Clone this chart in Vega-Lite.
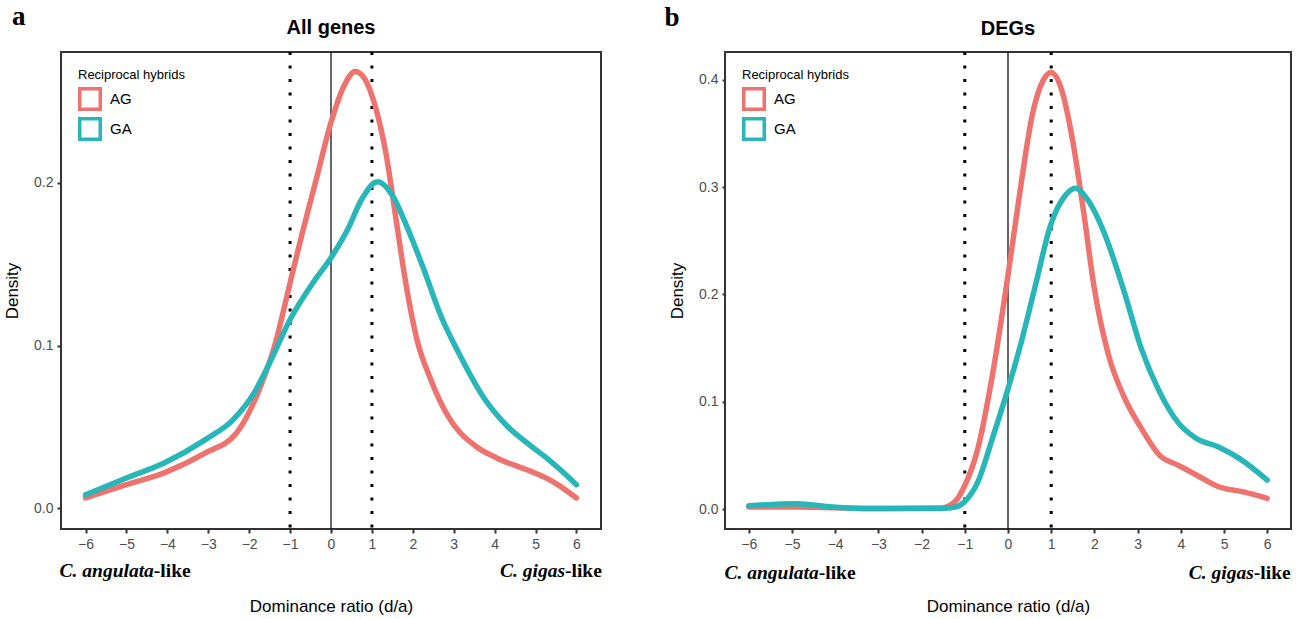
{
  "$schema": "https://vega.github.io/schema/vega-lite/v6.json",
  "background": "white",
  "padding": {"left": 2, "top": 2, "right": 10, "bottom": 2},
  "datasets": {
    "curves": [
      {"panel": "a", "hybrid": "AG", "x": -6.0, "y": 0.0062},
      {"panel": "a", "hybrid": "AG", "x": -5.0, "y": 0.0144},
      {"panel": "a", "hybrid": "AG", "x": -4.08, "y": 0.0216},
      {"panel": "a", "hybrid": "AG", "x": -3.07, "y": 0.0339},
      {"panel": "a", "hybrid": "AG", "x": -2.31, "y": 0.0462},
      {"panel": "a", "hybrid": "AG", "x": -2.01, "y": 0.0585},
      {"panel": "a", "hybrid": "AG", "x": -1.72, "y": 0.075},
      {"panel": "a", "hybrid": "AG", "x": -1.38, "y": 0.0996},
      {"panel": "a", "hybrid": "AG", "x": -1.0, "y": 0.1386},
      {"panel": "a", "hybrid": "AG", "x": -0.7, "y": 0.1694},
      {"panel": "a", "hybrid": "AG", "x": -0.36, "y": 0.2023},
      {"panel": "a", "hybrid": "AG", "x": 0.0, "y": 0.2372},
      {"panel": "a", "hybrid": "AG", "x": 0.32, "y": 0.2598},
      {"panel": "a", "hybrid": "AG", "x": 0.59, "y": 0.2686},
      {"panel": "a", "hybrid": "AG", "x": 0.83, "y": 0.2639},
      {"panel": "a", "hybrid": "AG", "x": 1.08, "y": 0.2474},
      {"panel": "a", "hybrid": "AG", "x": 1.34, "y": 0.2187},
      {"panel": "a", "hybrid": "AG", "x": 1.59, "y": 0.1776},
      {"panel": "a", "hybrid": "AG", "x": 1.84, "y": 0.1366},
      {"panel": "a", "hybrid": "AG", "x": 2.1, "y": 0.1037},
      {"panel": "a", "hybrid": "AG", "x": 2.44, "y": 0.079},
      {"panel": "a", "hybrid": "AG", "x": 2.86, "y": 0.0565},
      {"panel": "a", "hybrid": "AG", "x": 3.54, "y": 0.038},
      {"panel": "a", "hybrid": "AG", "x": 4.05, "y": 0.0308},
      {"panel": "a", "hybrid": "AG", "x": 4.98, "y": 0.0216},
      {"panel": "a", "hybrid": "AG", "x": 5.41, "y": 0.0164},
      {"panel": "a", "hybrid": "AG", "x": 6.0, "y": 0.0062},
      {"panel": "a", "hybrid": "GA", "x": -6.0, "y": 0.0082},
      {"panel": "a", "hybrid": "GA", "x": -5.0, "y": 0.0185},
      {"panel": "a", "hybrid": "GA", "x": -4.08, "y": 0.0277},
      {"panel": "a", "hybrid": "GA", "x": -3.07, "y": 0.0421},
      {"panel": "a", "hybrid": "GA", "x": -2.39, "y": 0.0544},
      {"panel": "a", "hybrid": "GA", "x": -1.88, "y": 0.0708},
      {"panel": "a", "hybrid": "GA", "x": -1.46, "y": 0.0914},
      {"panel": "a", "hybrid": "GA", "x": -1.0, "y": 0.116},
      {"panel": "a", "hybrid": "GA", "x": -0.44, "y": 0.1386},
      {"panel": "a", "hybrid": "GA", "x": 0.0, "y": 0.154},
      {"panel": "a", "hybrid": "GA", "x": 0.41, "y": 0.1715},
      {"panel": "a", "hybrid": "GA", "x": 0.75, "y": 0.19},
      {"panel": "a", "hybrid": "GA", "x": 1.14, "y": 0.2008},
      {"panel": "a", "hybrid": "GA", "x": 1.51, "y": 0.192},
      {"panel": "a", "hybrid": "GA", "x": 1.85, "y": 0.1735},
      {"panel": "a", "hybrid": "GA", "x": 2.27, "y": 0.1468},
      {"panel": "a", "hybrid": "GA", "x": 2.69, "y": 0.118},
      {"panel": "a", "hybrid": "GA", "x": 3.12, "y": 0.0955},
      {"panel": "a", "hybrid": "GA", "x": 3.71, "y": 0.0688},
      {"panel": "a", "hybrid": "GA", "x": 4.31, "y": 0.0503},
      {"panel": "a", "hybrid": "GA", "x": 4.9, "y": 0.038},
      {"panel": "a", "hybrid": "GA", "x": 5.32, "y": 0.0298},
      {"panel": "a", "hybrid": "GA", "x": 6.0, "y": 0.0144},
      {"panel": "b", "hybrid": "AG", "x": -6.0, "y": 0.002},
      {"panel": "b", "hybrid": "AG", "x": -4.9, "y": 0.002},
      {"panel": "b", "hybrid": "AG", "x": -3.2, "y": 0.0005},
      {"panel": "b", "hybrid": "AG", "x": -1.54, "y": 0.001},
      {"panel": "b", "hybrid": "AG", "x": -1.2, "y": 0.008},
      {"panel": "b", "hybrid": "AG", "x": -1.0, "y": 0.022},
      {"panel": "b", "hybrid": "AG", "x": -0.7, "y": 0.056},
      {"panel": "b", "hybrid": "AG", "x": -0.36, "y": 0.125},
      {"panel": "b", "hybrid": "AG", "x": 0.0, "y": 0.218},
      {"panel": "b", "hybrid": "AG", "x": 0.31, "y": 0.305},
      {"panel": "b", "hybrid": "AG", "x": 0.56, "y": 0.367},
      {"panel": "b", "hybrid": "AG", "x": 0.82, "y": 0.4},
      {"panel": "b", "hybrid": "AG", "x": 1.0, "y": 0.407},
      {"panel": "b", "hybrid": "AG", "x": 1.24, "y": 0.391},
      {"panel": "b", "hybrid": "AG", "x": 1.49, "y": 0.345},
      {"panel": "b", "hybrid": "AG", "x": 1.74, "y": 0.28},
      {"panel": "b", "hybrid": "AG", "x": 2.0, "y": 0.205},
      {"panel": "b", "hybrid": "AG", "x": 2.33, "y": 0.143},
      {"panel": "b", "hybrid": "AG", "x": 2.67, "y": 0.106},
      {"panel": "b", "hybrid": "AG", "x": 3.09, "y": 0.075},
      {"panel": "b", "hybrid": "AG", "x": 3.51, "y": 0.05},
      {"panel": "b", "hybrid": "AG", "x": 3.93, "y": 0.041},
      {"panel": "b", "hybrid": "AG", "x": 4.35, "y": 0.032},
      {"panel": "b", "hybrid": "AG", "x": 4.86, "y": 0.021},
      {"panel": "b", "hybrid": "AG", "x": 5.45, "y": 0.016},
      {"panel": "b", "hybrid": "AG", "x": 6.0, "y": 0.01},
      {"panel": "b", "hybrid": "GA", "x": -6.0, "y": 0.003},
      {"panel": "b", "hybrid": "GA", "x": -4.9, "y": 0.005},
      {"panel": "b", "hybrid": "GA", "x": -4.07, "y": 0.002},
      {"panel": "b", "hybrid": "GA", "x": -3.2, "y": 0.0005},
      {"panel": "b", "hybrid": "GA", "x": -1.54, "y": 0.0005},
      {"panel": "b", "hybrid": "GA", "x": -1.2, "y": 0.002},
      {"panel": "b", "hybrid": "GA", "x": -1.0, "y": 0.007},
      {"panel": "b", "hybrid": "GA", "x": -0.7, "y": 0.025},
      {"panel": "b", "hybrid": "GA", "x": -0.36, "y": 0.066},
      {"panel": "b", "hybrid": "GA", "x": 0.0, "y": 0.112},
      {"panel": "b", "hybrid": "GA", "x": 0.31, "y": 0.156},
      {"panel": "b", "hybrid": "GA", "x": 0.65, "y": 0.211},
      {"panel": "b", "hybrid": "GA", "x": 0.98, "y": 0.264},
      {"panel": "b", "hybrid": "GA", "x": 1.32, "y": 0.292},
      {"panel": "b", "hybrid": "GA", "x": 1.56, "y": 0.299},
      {"panel": "b", "hybrid": "GA", "x": 1.83, "y": 0.289},
      {"panel": "b", "hybrid": "GA", "x": 2.25, "y": 0.255},
      {"panel": "b", "hybrid": "GA", "x": 2.67, "y": 0.205},
      {"panel": "b", "hybrid": "GA", "x": 3.09, "y": 0.149},
      {"panel": "b", "hybrid": "GA", "x": 3.51, "y": 0.109},
      {"panel": "b", "hybrid": "GA", "x": 3.93, "y": 0.081},
      {"panel": "b", "hybrid": "GA", "x": 4.35, "y": 0.066},
      {"panel": "b", "hybrid": "GA", "x": 4.86, "y": 0.058},
      {"panel": "b", "hybrid": "GA", "x": 5.36, "y": 0.047},
      {"panel": "b", "hybrid": "GA", "x": 6.0, "y": 0.027}
    ],
    "dotted": [{"x": -1}, {"x": 1}],
    "zero": [{"x": 0}],
    "letters": [
      {"panel": "a", "label": "a", "x": -7.8, "y": 0.302},
      {"panel": "b", "label": "b", "x": -7.95, "y": 0.458}
    ],
    "species": [
      {"panel": "a", "part": "name", "label": "C. angulata", "x": -4.33, "y": -0.0388},
      {"panel": "a", "part": "suffix", "label": "-like", "x": -4.33, "y": -0.0388},
      {"panel": "a", "part": "name", "label": "C. gigas", "x": 5.72, "y": -0.0388},
      {"panel": "a", "part": "suffix", "label": "-like", "x": 5.72, "y": -0.0388},
      {"panel": "b", "part": "name", "label": "C. angulata", "x": -4.38, "y": -0.0595},
      {"panel": "b", "part": "suffix", "label": "-like", "x": -4.38, "y": -0.0595},
      {"panel": "b", "part": "name", "label": "C. gigas", "x": 5.69, "y": -0.0595},
      {"panel": "b", "part": "suffix", "label": "-like", "x": 5.69, "y": -0.0595}
    ]
  },
  "hconcat": [
    {
      "width": 540,
      "height": 477,
      "title": {"text": "All genes"},
      "layer": [
        {
          "data": {"name": "zero"},
          "mark": {"type": "rule", "color": "black", "strokeWidth": 1.2},
          "encoding": {"x": {"field": "x", "type": "quantitative", "scale": {"domain": [-6.6, 6.6], "nice": false, "zero": false}}}
        },
        {
          "data": {"name": "dotted"},
          "mark": {"type": "rule", "color": "black", "strokeWidth": 3, "strokeDash": [3, 10.5]},
          "encoding": {"x": {"field": "x", "type": "quantitative"}}
        },
        {
          "data": {"name": "curves"},
          "transform": [{"filter": "datum.panel === 'a'"}],
          "mark": {"type": "line", "strokeWidth": 5.5, "interpolate": "monotone", "strokeCap": "round"},
          "encoding": {
            "x": {"field": "x", "type": "quantitative", "title": "Dominance ratio (d/a)",
              "scale": {"domain": [-6.6, 6.6], "nice": false, "zero": false},
              "axis": {"values": [-6, -5, -4, -3, -2, -1, 0, 1, 2, 3, 4, 5, 6], "format": "d", "titlePadding": 47}},
            "y": {"field": "y", "type": "quantitative", "title": "Density",
              "scale": {"domain": [-0.0129, 0.2806], "nice": false, "zero": false},
              "axis": {"values": [0, 0.1, 0.2], "format": ".1f"}},
            "color": {"field": "hybrid", "type": "nominal", "title": "Reciprocal hybrids",
              "scale": {"domain": ["AG", "GA"], "range": ["#EE726E", "#29B6B8"]}}
          }
        },
        {
          "data": {"name": "letters"},
          "transform": [{"filter": "datum.panel === 'a'"}],
          "mark": {"type": "text", "font": "Liberation Serif", "fontWeight": "bold", "fontSize": 27, "align": "left", "baseline": "middle"},
          "encoding": {
            "x": {"field": "x", "type": "quantitative"},
            "y": {"field": "y", "type": "quantitative"},
            "text": {"field": "label"}
          }
        },
        {
          "data": {"name": "species"},
          "transform": [{"filter": "datum.panel === 'a' && datum.part === 'name'"}],
          "mark": {"type": "text", "font": "Liberation Serif", "fontWeight": "bold", "fontStyle": "italic", "fontSize": 19.5, "align": "right", "baseline": "middle"},
          "encoding": {
            "x": {"field": "x", "type": "quantitative"},
            "y": {"field": "y", "type": "quantitative"},
            "text": {"field": "label"}
          }
        },
        {
          "data": {"name": "species"},
          "transform": [{"filter": "datum.panel === 'a' && datum.part === 'suffix'"}],
          "mark": {"type": "text", "font": "Liberation Serif", "fontWeight": "bold", "fontSize": 19.5, "align": "left", "baseline": "middle"},
          "encoding": {
            "x": {"field": "x", "type": "quantitative"},
            "y": {"field": "y", "type": "quantitative"},
            "text": {"field": "label"}
          }
        }
      ]
    },
    {
      "width": 566,
      "height": 477,
      "title": {"text": "DEGs"},
      "layer": [
        {
          "data": {"name": "zero"},
          "mark": {"type": "rule", "color": "black", "strokeWidth": 1.2},
          "encoding": {"x": {"field": "x", "type": "quantitative", "scale": {"domain": [-6.55, 6.55], "nice": false, "zero": false}}}
        },
        {
          "data": {"name": "dotted"},
          "mark": {"type": "rule", "color": "black", "strokeWidth": 3, "strokeDash": [3, 10.5]},
          "encoding": {"x": {"field": "x", "type": "quantitative"}}
        },
        {
          "data": {"name": "curves"},
          "transform": [{"filter": "datum.panel === 'b'"}],
          "mark": {"type": "line", "strokeWidth": 5.5, "interpolate": "monotone", "strokeCap": "round"},
          "encoding": {
            "x": {"field": "x", "type": "quantitative", "title": "Dominance ratio (d/a)",
              "scale": {"domain": [-6.55, 6.55], "nice": false, "zero": false},
              "axis": {"values": [-6, -5, -4, -3, -2, -1, 0, 1, 2, 3, 4, 5, 6], "format": "d", "titlePadding": 47}},
            "y": {"field": "y", "type": "quantitative", "title": "Density",
              "scale": {"domain": [-0.0186, 0.426], "nice": false, "zero": false},
              "axis": {"values": [0, 0.1, 0.2, 0.3, 0.4], "format": ".1f", "tickSize": 3}},
            "color": {"field": "hybrid", "type": "nominal", "title": "Reciprocal hybrids",
              "scale": {"domain": ["AG", "GA"], "range": ["#EE726E", "#29B6B8"]}}
          }
        },
        {
          "data": {"name": "letters"},
          "transform": [{"filter": "datum.panel === 'b'"}],
          "mark": {"type": "text", "font": "Liberation Serif", "fontWeight": "bold", "fontSize": 27, "align": "left", "baseline": "middle"},
          "encoding": {
            "x": {"field": "x", "type": "quantitative"},
            "y": {"field": "y", "type": "quantitative"},
            "text": {"field": "label"}
          }
        },
        {
          "data": {"name": "species"},
          "transform": [{"filter": "datum.panel === 'b' && datum.part === 'name'"}],
          "mark": {"type": "text", "font": "Liberation Serif", "fontWeight": "bold", "fontStyle": "italic", "fontSize": 19.5, "align": "right", "baseline": "middle"},
          "encoding": {
            "x": {"field": "x", "type": "quantitative"},
            "y": {"field": "y", "type": "quantitative"},
            "text": {"field": "label"}
          }
        },
        {
          "data": {"name": "species"},
          "transform": [{"filter": "datum.panel === 'b' && datum.part === 'suffix'"}],
          "mark": {"type": "text", "font": "Liberation Serif", "fontWeight": "bold", "fontSize": 19.5, "align": "left", "baseline": "middle"},
          "encoding": {
            "x": {"field": "x", "type": "quantitative"},
            "y": {"field": "y", "type": "quantitative"},
            "text": {"field": "label"}
          }
        }
      ]
    }
  ],
  "spacing": 60,
  "resolve": {"scale": {"color": "independent"}},
  "config": {
    "font": "Liberation Sans",
    "view": {"stroke": "#333333", "strokeWidth": 2},
    "title": {"fontSize": 20, "fontWeight": "bold", "color": "black", "offset": -35, "anchor": "middle"},
    "axis": {
      "grid": false,
      "domain": false,
      "tickColor": "#333333",
      "tickWidth": 2,
      "tickSize": 4,
      "labelColor": "#4D4D4D",
      "labelFontSize": 14,
      "labelPadding": 4,
      "titleColor": "black",
      "titleFontSize": 17,
      "titleFontWeight": "normal"
    },
    "axisY": {"titlePadding": 12},
    "legend": {
      "orient": "top-left",
      "offset": 17,
      "titleFontSize": 13,
      "titleFontWeight": "normal",
      "titleColor": "black",
      "titlePadding": 5,
      "labelFontSize": 15,
      "labelColor": "black",
      "labelOffset": 8,
      "symbolType": "square",
      "symbolSize": 420,
      "symbolStrokeWidth": 3.5,
      "symbolFillColor": "transparent",
      "rowPadding": -40
    }
  }
}
